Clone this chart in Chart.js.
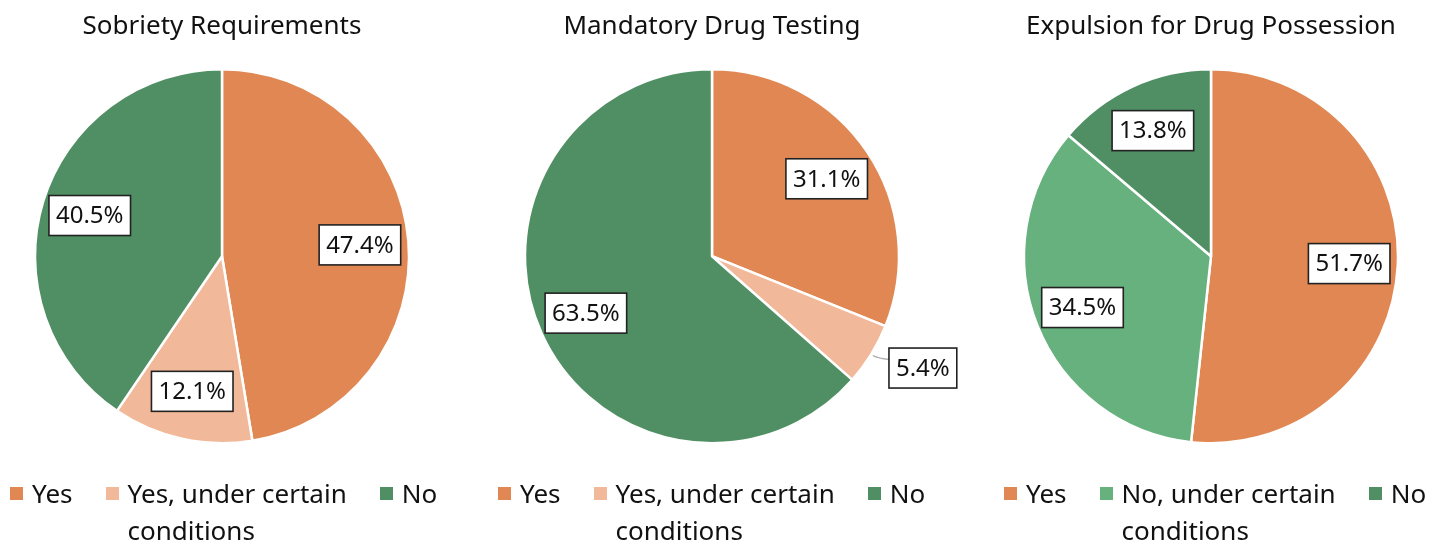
<!DOCTYPE html>
<html>
<head>
<meta charset="utf-8">
<script src="https://cdn.jsdelivr.net/npm/chart.js@4.4.1/dist/chart.umd.min.js"></script>
<style>
  html, body { margin: 0; padding: 0; background: #fff; }
  body { width: 1440px; height: 548px; position: relative; overflow: hidden; font-family: "Noto Sans", sans-serif; }
  .panel { position: absolute; top: 0; height: 548px; }
  .legend { position: absolute; top: 475px; display: flex; font-size: 26px; line-height: 37px; color: #111; }
  .legend .item { display: flex; align-items: flex-start; margin-right: 33px; }
  .legend .box { width: 13px; height: 13px; margin-top: 12px; margin-right: 9px; flex: none; }
  .legend .txt div { white-space: nowrap; }
</style>
</head>
<body>
<div class="panel" style="left:0;width:480px"><canvas id="c1" width="480" height="548"></canvas></div>
<div class="panel" style="left:440px;width:560px"><canvas id="c2" width="560" height="548"></canvas></div>
<div class="panel" style="left:960px;width:480px"><canvas id="c3" width="480" height="548"></canvas></div>
<div class="legend" id="l1" style="left:10px"></div>
<div class="legend" id="l2" style="left:498px"></div>
<div class="legend" id="l3" style="left:1004px"></div>
<script>
// data
const sobrietyTitle = "Sobriety Requirements";
const sobrietyLabels = ["Yes", "Yes, under certain conditions", "No"];
const sobrietyValues = [47.4, 12.1, 40.5];

const testingTitle = "Mandatory Drug Testing";
const testingLabels = ["Yes", "Yes, under certain conditions", "No"];
const testingValues = [31.1, 5.4, 63.5];

const expulsionTitle = "Expulsion for Drug Possession";
const expulsionLabels = ["Yes", "No, under certain conditions", "No"];
const expulsionValues = [51.7, 34.5, 13.8];

const ORANGE = "rgb(224, 135, 83)";
const LIGHT_ORANGE = "rgb(241, 185, 153)";
const GREEN = "rgb(79, 143, 99)";
const LIGHT_GREEN = "rgb(102, 177, 126)";

const FONT = "'Noto Sans', sans-serif";

// boxed percentage labels, small slices go outside with a leader line
const boxLabels = {
  id: "boxLabels",
  afterDatasetsDraw(chart) {
    const ctx = chart.ctx;
    const meta = chart.getDatasetMeta(0);
    const values = chart.data.datasets[0].data;
    const total = values.reduce((a, b) => a + b, 0);
    ctx.save();
    ctx.font = "24px " + FONT;
    ctx.textAlign = "center";
    ctx.textBaseline = "middle";
    meta.data.forEach((arc, i) => {
      const { x, y, startAngle, endAngle, outerRadius } = arc.getProps(["x", "y", "startAngle", "endAngle", "outerRadius"], true);
      const mid = (startAngle + endAngle) / 2;
      const text = values[i].toFixed(1) + "%";
      const w = ctx.measureText(text).width + 14;
      const h = 40;
      const small = values[i] / total < 0.08;
      let cx, cy;
      if (small) {
        const r = outerRadius * 1.2;
        const ex = x + Math.cos(mid) * (outerRadius + 2);
        const ey = y + Math.sin(mid) * (outerRadius + 2);
        cx = x + Math.cos(mid) * r + w / 2 - 14;
        cy = y + Math.sin(mid) * r - 6;
        ctx.strokeStyle = "#a6a6a6";
        ctx.lineWidth = 1.2;
        ctx.beginPath();
        ctx.moveTo(ex, ey);
        ctx.quadraticCurveTo(ex + 6, ey + 3, cx - w / 2, ey + 4);
        ctx.stroke();
      } else {
        const r = outerRadius * 0.74;
        cx = x + Math.cos(mid) * r;
        cy = y + Math.sin(mid) * r;
      }
      ctx.fillStyle = "#fff";
      ctx.fillRect(cx - w / 2, cy - h / 2, w, h);
      ctx.strokeStyle = "#222";
      ctx.lineWidth = 1.6;
      ctx.strokeRect(cx - w / 2, cy - h / 2, w, h);
      ctx.fillStyle = "#111";
      ctx.fillText(text, cx, cy + 1);
    });
    ctx.restore();
  },
};

// wrap a legend label into lines no wider than maxWidth
const wrapLabel = (text, maxWidth) => {
  const m = document.createElement("canvas").getContext("2d");
  m.font = "26px " + FONT;
  const lines = [];
  let line = "";
  text.split(" ").forEach((word) => {
    const test = line ? line + " " + word : word;
    if (line && m.measureText(test).width > maxWidth) {
      lines.push(line);
      line = word;
    } else {
      line = test;
    }
  });
  lines.push(line);
  return lines;
};

const buildLegend = (chart, id) => {
  const el = document.getElementById(id);
  const { labels, datasets } = chart.data;
  el.innerHTML = labels
    .map((label, i) => {
      const lines = wrapLabel(label, 235).map((l) => `<div>${l}</div>`).join("");
      return `<div class="item"><span class="box" style="background:${datasets[0].backgroundColor[i]}"></span><span class="txt">${lines}</span></div>`;
    })
    .join("");
};

const drawPie = (canvasId, legendId, title, labels, values, colors, padLeft, padRight) => {
  const chart = new Chart(document.getElementById(canvasId), {
    type: "pie",
    data: {
      labels: labels,
      datasets: [
        {
          data: values,
          backgroundColor: colors,
          borderColor: "#fff",
          borderWidth: 2.5,
          radius: 187,
        },
      ],
    },
    options: {
      responsive: false,
      animation: false,
      layout: { padding: { top: 0, bottom: 88.8, left: padLeft, right: padRight } },
      plugins: {
        legend: { display: false },
        tooltip: { enabled: false },
        title: {
          display: true,
          text: title,
          color: "#111",
          font: { family: FONT, size: 26, weight: "normal", lineHeight: 1.2 },
          padding: { top: 11, bottom: 11 },
        },
      },
    },
    plugins: [boxLabels],
  });
  buildLegend(chart, legendId);
};

drawPie("c1", "l1", sobrietyTitle, sobrietyLabels, sobrietyValues, [ORANGE, LIGHT_ORANGE, GREEN], 0, 36);
drawPie("c2", "l2", testingTitle, testingLabels, testingValues, [ORANGE, LIGHT_ORANGE, GREEN], 0, 16);
drawPie("c3", "l3", expulsionTitle, expulsionLabels, expulsionValues, [ORANGE, LIGHT_GREEN, GREEN], 22, 0);
</script>
</body>
</html>
